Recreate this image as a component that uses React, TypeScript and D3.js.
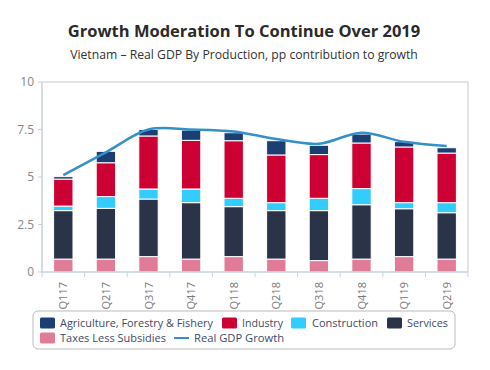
import React from 'react';
import * as d3 from 'd3';

const quarters = ['Q117', 'Q217', 'Q317', 'Q417', 'Q118', 'Q218', 'Q318', 'Q418', 'Q119', 'Q219'];
const taxes = [0.68, 0.68, 0.81, 0.68, 0.81, 0.68, 0.6, 0.68, 0.81, 0.68];
const services = [2.55, 2.67, 3.03, 2.97, 2.63, 2.55, 2.63, 2.86, 2.52, 2.44];
const construction = [0.24, 0.62, 0.53, 0.72, 0.44, 0.42, 0.65, 0.85, 0.32, 0.53];
const industry = [1.42, 1.78, 2.79, 2.56, 3.03, 2.51, 2.3, 2.4, 2.93, 2.61];
const agriculture = [0.13, 0.6, 0.34, 0.54, 0.42, 0.75, 0.49, 0.47, 0.28, 0.28];
const gdpGrowth = [5.1, 6.3, 7.5, 7.5, 7.4, 7.0, 6.75, 7.33, 6.85, 6.63];
const yTicks = [0, 2.5, 5, 7.5, 10];

// bottom to top
const series = [
  { key: 'taxes', name: 'Taxes Less Subsidies', values: taxes, color: '#e07c97' },
  { key: 'services', name: 'Services', values: services, color: '#2b3349' },
  { key: 'construction', name: 'Construction', values: construction, color: '#33ccff' },
  { key: 'industry', name: 'Industry', values: industry, color: '#cc0033' },
  { key: 'agriculture', name: 'Agriculture, Forestry & Fishery', values: agriculture, color: '#1b3f73' },
];
const lineColor = '#3590c8';

const margin = { top: 82, right: 22, bottom: 98, left: 42 };
const W = 490, H = 370;

export default function App() {
  const rows = quarters.map((q, i) => {
    const r: any = { q };
    series.forEach(s => { r[s.key] = s.values[i]; });
    return r;
  });
  const stacked = d3.stack().keys(series.map(s => s.key))(rows);

  const x = d3.scaleBand()
    .domain(quarters)
    .range([margin.left, W - margin.right])
    .paddingInner(0.545)
    .paddingOuter(0.2725);
  const y = d3.scaleLinear().domain([0, 10]).range([H - margin.bottom, margin.top]);

  const gdpLine = d3.line<number>()
    .x((_, i) => x(quarters[i])! + x.bandwidth() / 2)
    .y(d => y(d))
    .curve(d3.curveCatmullRom.alpha(0.5));

  const step = x.step();
  const x0 = margin.left, x1 = W - margin.right, yb = H - margin.bottom;

  const font = '"Open Sans", sans-serif';
  const legendText = '#3e4b6a';

  // legend positions
  const legendItems = [
    { name: 'Agriculture, Forestry & Fishery', color: '#1b3f73', kind: 'rect', sx: 40, tx: 60, len: 153, row: 0 },
    { name: 'Industry', color: '#cc0033', kind: 'rect', sx: 222, tx: 242, len: 41, row: 0 },
    { name: 'Construction', color: '#33ccff', kind: 'rect', sx: 291, tx: 312, len: 66, row: 0 },
    { name: 'Services', color: '#2b3349', kind: 'rect', sx: 387, tx: 407, len: 41, row: 0 },
    { name: 'Taxes Less Subsidies', color: '#e07c97', kind: 'rect', sx: 40, tx: 60, len: 106, row: 1 },
    { name: 'Real GDP Growth', color: lineColor, kind: 'line', sx: 174, tx: 194, len: 90, row: 1 },
  ];

  return (
    <svg width={W} height={H} style={{ position: 'absolute', left: 0, top: 0, background: '#fff' }} fontFamily={font}>
      <text x={244} y={37} textAnchor="middle" fontSize={16.5} fontWeight="bold" fill="#2a2a2a">
        Growth Moderation To Continue Over 2019
      </text>
      <text x={244} y={59} textAnchor="middle" fontSize={12.2} fill="#333">
        Vietnam – Real GDP By Production, pp contribution to growth
      </text>

      {/* plot frame */}
      <path d={`M${x0},${margin.top}H${x1}V${yb}`} fill="none" stroke="#dcdcdc" strokeWidth={1.5} />

      {/* y axis */}
      <line x1={x0} x2={x0} y1={margin.top} y2={yb} stroke="#c9d1dd" strokeWidth={1.5} />
      {yTicks.map(t => (
        <g key={t}>
          <line x1={x0 - 4} x2={x0} y1={y(t)} y2={y(t)} stroke="#c9d1dd" />
          <text x={34} y={y(t)} dy="0.35em" textAnchor="end" fontSize={12} fill="#888">{t}</text>
        </g>
      ))}

      {/* bars */}
      {stacked.map((layer, li) => (
        <g key={layer.key} fill={series[li].color}>
          {layer.map((d, i) => (
            <rect key={i} x={x(quarters[i])} y={y(d[1])} width={x.bandwidth()}
              height={Math.max(0, y(d[0]) - y(d[1]))} stroke="#fff" strokeWidth={1} />
          ))}
        </g>
      ))}

      {/* x axis */}
      <line x1={x0} x2={x1} y1={yb} y2={yb} stroke="#c6d3e3" strokeWidth={1.5} />
      {d3.range(quarters.length + 1).map(i => (
        <line key={i} x1={x0 + i * step} x2={x0 + i * step} y1={yb} y2={yb + 5} stroke="#c6d3e3" />
      ))}
      {quarters.map(q => {
        const cx = x(q)! + x.bandwidth() / 2;
        return (
          <text key={q} transform={`translate(${cx + 4},${yb + 10}) rotate(-90)`} textAnchor="end"
            fontSize={11} fill="#777">{q}</text>
        );
      })}

      {/* GDP line */}
      <path d={gdpLine(gdpGrowth) || ''} fill="none" stroke={lineColor} strokeWidth={2.5} />

      {/* legend */}
      <rect x={33} y={311} width={422} height={38} rx={5} fill="#fff" stroke="#bbb" />
      {legendItems.map(it => {
        const cy = it.row === 0 ? 323 : 338;
        return (
          <g key={it.name}>
            {it.kind === 'rect'
              ? <rect x={it.sx} y={cy - 5.5} width={15} height={11} rx={1.5} fill={it.color} />
              : <line x1={it.sx} x2={it.sx + 15} y1={cy} y2={cy} stroke={it.color} strokeWidth={2} />}
            <text x={it.tx} y={cy} dy="0.35em" fontSize={11.5} fill={legendText}
              textLength={it.len} lengthAdjust="spacingAndGlyphs">{it.name}</text>
          </g>
        );
      })}
    </svg>
  );
}
